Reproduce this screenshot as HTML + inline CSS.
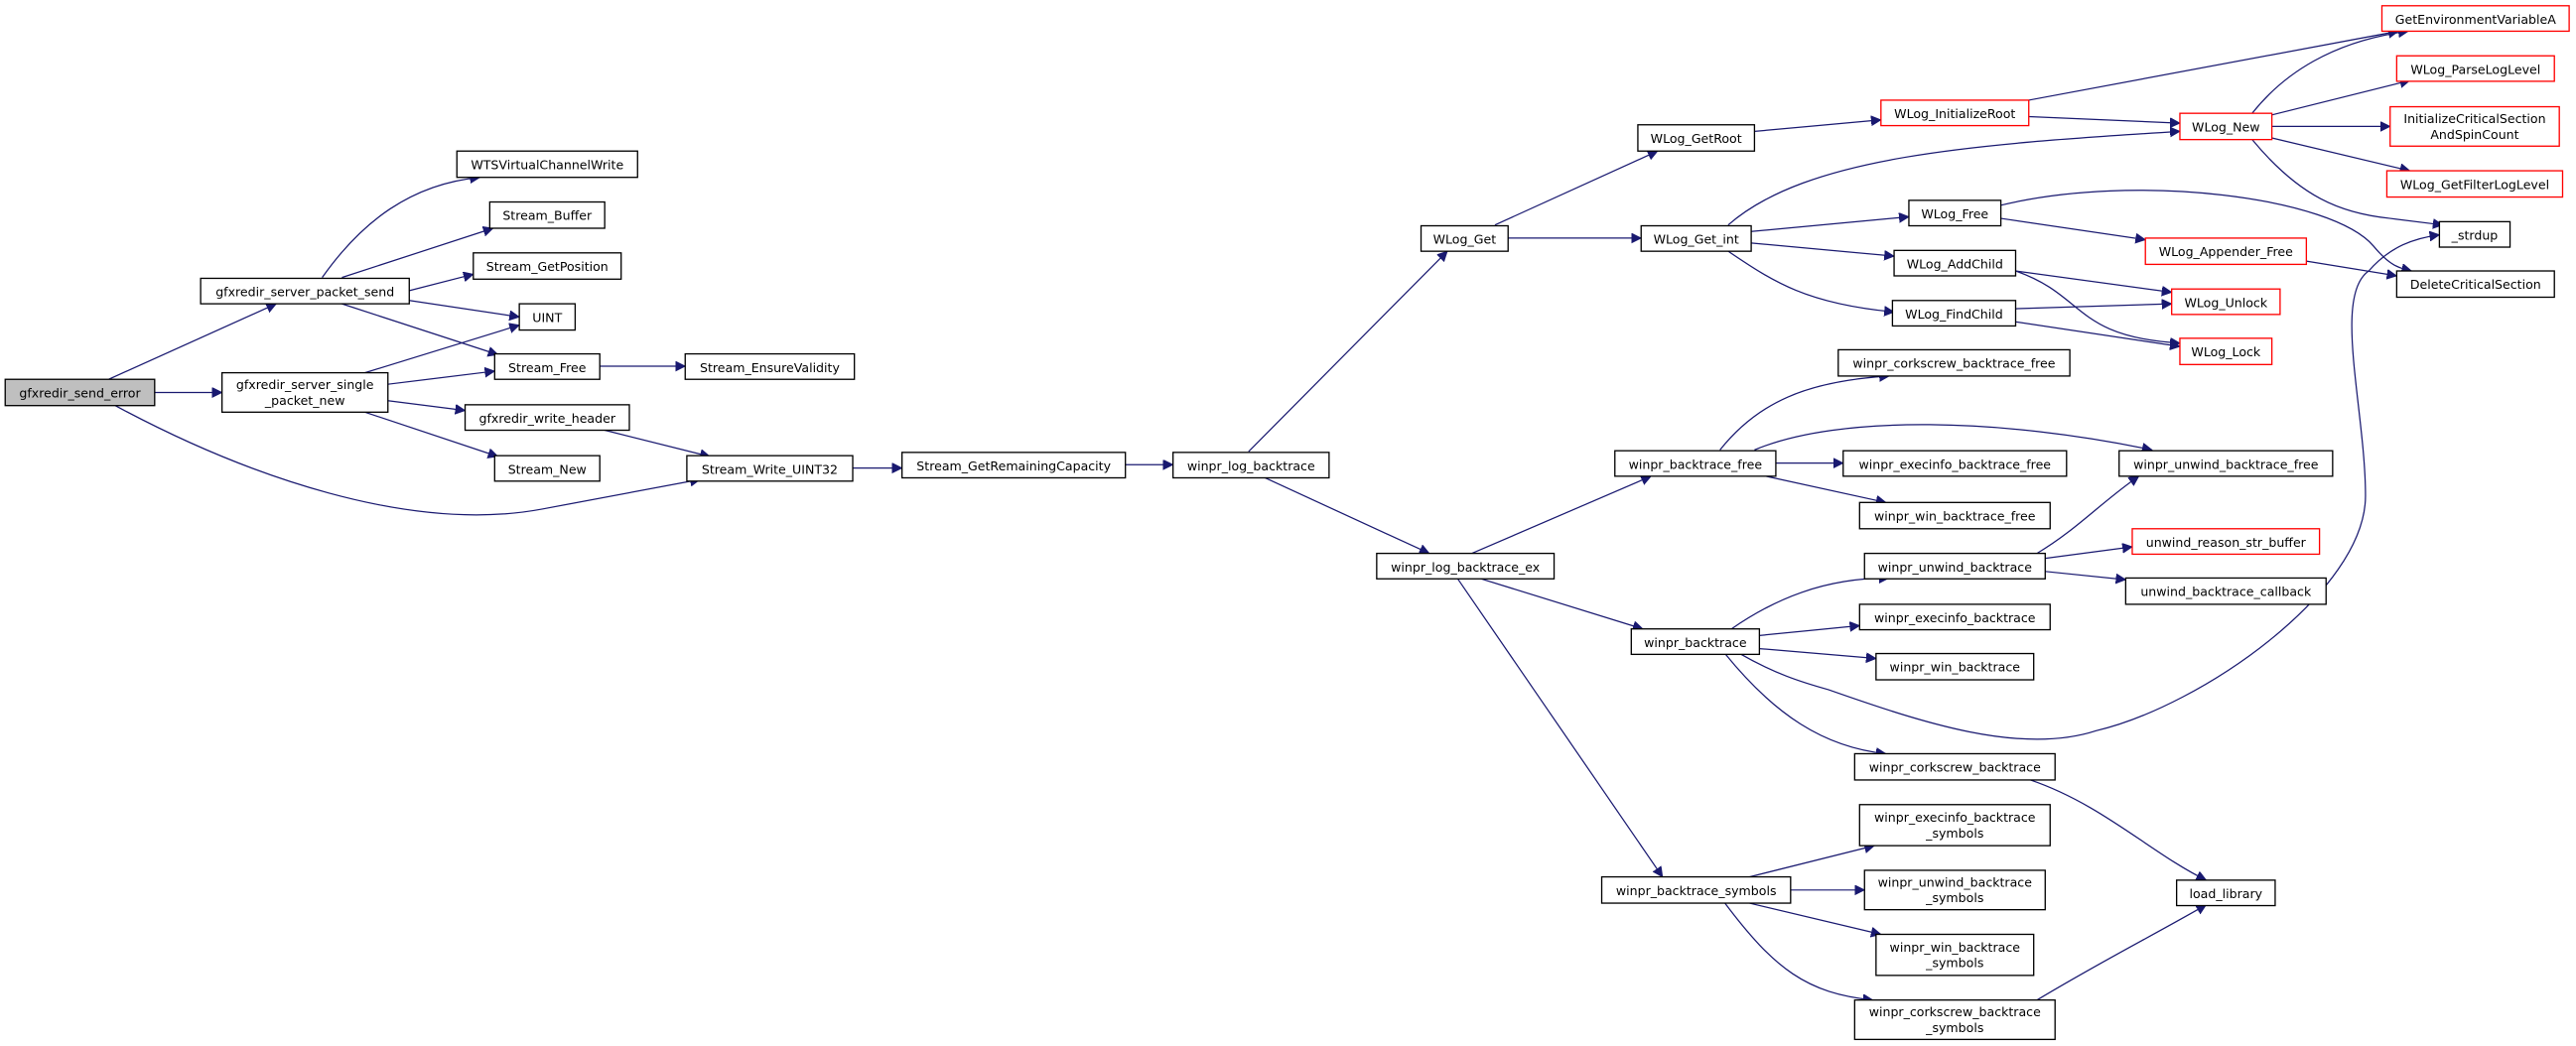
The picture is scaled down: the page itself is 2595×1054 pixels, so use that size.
<!DOCTYPE html>
<html><head><meta charset="utf-8"><style>
html,body{margin:0;padding:0;background:#fff;}
svg{display:block;}
text{font-family:"DejaVu Sans","Liberation Sans",sans-serif;font-size:7.6px;fill:#000;text-anchor:middle;}
.n{fill:#fff;stroke:#000;stroke-width:0.8;}
.r{fill:#fff;stroke:#ff0000;stroke-width:0.8;}
.g{fill:#bfbfbf;stroke:#000;stroke-width:0.8;}
.e{fill:none;stroke:#191970;stroke-width:0.75;marker-end:url(#a);}
</style></head><body>
<svg width="2595" height="1054" viewBox="0 0 1568 637" xmlns="http://www.w3.org/2000/svg">
<defs><marker id="a" markerUnits="userSpaceOnUse" markerWidth="8" markerHeight="8" refX="6" refY="3" orient="auto"><path d="M0,0 L6,3 L0,6 Z" fill="#191970" stroke="#191970" stroke-width="0.5"/></marker></defs>

<!-- edges -->
<path class="e" d="M66,231 L168,185"/>
<path class="e" d="M94,239 L135,239"/>
<path class="e" d="M70,247 C150,290 250,325 330,310 L426,292"/>
<path class="e" d="M196,169 C220,135 250,112 292,108"/>
<path class="e" d="M208,169 L300,139"/>
<path class="e" d="M249,177 L288,167"/>
<path class="e" d="M249,183 L316,193"/>
<path class="e" d="M208,185 L303,216"/>
<path class="e" d="M222,227 L316,198"/>
<path class="e" d="M236,234 L301,226"/>
<path class="e" d="M236,244 L283,250"/>
<path class="e" d="M222,251 L303,278"/>
<path class="e" d="M365,223 L417,223"/>
<path class="e" d="M368,262 L432,278"/>
<path class="e" d="M519,285 L549,285"/>
<path class="e" d="M685,283 L714,283"/>
<path class="e" d="M760,275 L881,153"/>
<path class="e" d="M770,291 L870,337"/>
<path class="e" d="M910,137 L1009,92"/>
<path class="e" d="M918,145 L999,145"/>
<path class="e" d="M1068,80 L1145,73"/>
<path class="e" d="M1235,61 L1460,19"/>
<path class="e" d="M1235,71 L1327,75"/>
<path class="e" d="M1052,137 C1100,95 1200,88 1327,80"/>
<path class="e" d="M1066,141 L1162,132"/>
<path class="e" d="M1066,148 L1153,156"/>
<path class="e" d="M1052,153 C1080,172 1100,185 1153,190"/>
<path class="e" d="M1371,69 C1390,45 1420,25 1466,19"/>
<path class="e" d="M1383,70 L1467,49"/>
<path class="e" d="M1383,77 L1455,77"/>
<path class="e" d="M1383,84 L1467,104"/>
<path class="e" d="M1371,85 C1400,120 1425,130 1455,133 L1487,137"/>
<path class="e" d="M1218,125 C1300,105 1420,120 1445,150 C1455,162 1460,163 1468,165"/>
<path class="e" d="M1218,133 L1306,146"/>
<path class="e" d="M1404,159 L1459,168"/>
<path class="e" d="M1227,165 L1322,178"/>
<path class="e" d="M1227,165 C1270,180 1262,205 1327,209"/>
<path class="e" d="M1227,188 L1322,185"/>
<path class="e" d="M1227,196 L1327,211"/>
<path class="e" d="M896,337 L1005,290"/>
<path class="e" d="M900,352 L1000,383"/>
<path class="e" d="M887,352 L1012,534"/>
<path class="e" d="M1047,274 C1070,245 1100,232 1150,229"/>
<path class="e" d="M1068,274 C1120,252 1220,255 1310,274"/>
<path class="e" d="M1081,282 L1122,282"/>
<path class="e" d="M1075,290 L1148,306"/>
<path class="e" d="M1054,383 C1080,365 1110,352 1150,352"/>
<path class="e" d="M1071,387 L1132,381"/>
<path class="e" d="M1071,395 L1142,401"/>
<path class="e" d="M1059,398 C1080,410 1095,415 1113,420 C1170,440 1230,460 1276,445 C1340,430 1440,360 1440,302 C1440,250 1420,180 1442,165 C1455,150 1470,145 1485,143"/>
<path class="e" d="M1240,337 C1265,322 1280,305 1302,290"/>
<path class="e" d="M1245,340 L1298,333"/>
<path class="e" d="M1245,348 L1294,353"/>
<path class="e" d="M1050,398 C1080,435 1110,455 1148,459"/>
<path class="e" d="M1236,475 C1280,490 1310,520 1343,536"/>
<path class="e" d="M1065,534 L1141,515"/>
<path class="e" d="M1090,542 L1135,542"/>
<path class="e" d="M1065,550 L1145,569"/>
<path class="e" d="M1050,550 C1080,590 1100,605 1140,609"/>
<path class="e" d="M1240,609 C1280,585 1310,570 1343,551"/>

<!-- nodes -->
<rect class="g" x="3" y="231" width="91" height="16"/><text x="48.5" y="242">gfxredir_send_error</text>
<rect class="n" x="122" y="169.5" width="127" height="15.5"/><text x="185.5" y="180.5">gfxredir_server_packet_send</text>
<rect class="n" x="135" y="227" width="101" height="24"/><text x="185.5" y="237">gfxredir_server_single</text><text x="185.5" y="246.5">_packet_new</text>
<rect class="n" x="278" y="92" width="110" height="16"/><text x="333" y="103">WTSVirtualChannelWrite</text>
<rect class="n" x="298" y="123" width="70" height="16"/><text x="333" y="134">Stream_Buffer</text>
<rect class="n" x="288" y="154" width="90" height="16"/><text x="333" y="165">Stream_GetPosition</text>
<rect class="n" x="316" y="185" width="34" height="16"/><text x="333" y="196">UINT</text>
<rect class="n" x="301" y="215.5" width="64" height="15.5"/><text x="333" y="226.5">Stream_Free</text>
<rect class="n" x="417" y="215.5" width="103" height="15.5"/><text x="468.5" y="226.5">Stream_EnsureValidity</text>
<rect class="n" x="283" y="246.5" width="100" height="15.5"/><text x="333" y="257.5">gfxredir_write_header</text>
<rect class="n" x="301" y="277.5" width="64" height="15.5"/><text x="333" y="288.5">Stream_New</text>
<rect class="n" x="418" y="277.5" width="101" height="15.5"/><text x="468.5" y="288.5">Stream_Write_UINT32</text>
<rect class="n" x="549" y="275.5" width="136" height="15.5"/><text x="617" y="286.5">Stream_GetRemainingCapacity</text>
<rect class="n" x="714" y="275.5" width="95" height="15.5"/><text x="761.5" y="286.5">winpr_log_backtrace</text>

<rect class="r" x="1450" y="3.5" width="114" height="15.5"/><text x="1507" y="14.5">GetEnvironmentVariableA</text>
<rect class="r" x="1459" y="34" width="96" height="15.5"/><text x="1507" y="45">WLog_ParseLogLevel</text>
<rect class="r" x="1455" y="65" width="103" height="24"/><text x="1506.5" y="75">InitializeCriticalSection</text><text x="1506.5" y="84.5">AndSpinCount</text>
<rect class="r" x="1453" y="104" width="107" height="16"/><text x="1506.5" y="115">WLog_GetFilterLogLevel</text>
<rect class="r" x="1327" y="69" width="56" height="16"/><text x="1355" y="80">WLog_New</text>
<rect class="r" x="1145" y="61" width="90" height="15.5"/><text x="1190" y="72">WLog_InitializeRoot</text>
<rect class="n" x="997" y="76" width="71" height="16"/><text x="1032.5" y="87">WLog_GetRoot</text>
<rect class="n" x="865" y="137.5" width="53" height="15.5"/><text x="891.5" y="148.5">WLog_Get</text>
<rect class="n" x="999" y="137.5" width="67" height="15.5"/><text x="1032.5" y="148.5">WLog_Get_int</text>
<rect class="n" x="1162" y="122" width="56" height="15.5"/><text x="1190" y="133">WLog_Free</text>
<rect class="r" x="1306" y="145" width="98" height="16"/><text x="1355" y="156">WLog_Appender_Free</text>
<rect class="n" x="1485" y="135" width="43" height="15.5"/><text x="1506.5" y="146">_strdup</text>
<rect class="n" x="1459" y="165" width="96" height="16"/><text x="1507" y="176">DeleteCriticalSection</text>
<rect class="n" x="1153" y="152.5" width="74" height="15.5"/><text x="1190" y="163.5">WLog_AddChild</text>
<rect class="r" x="1322" y="176" width="66" height="15.5"/><text x="1355" y="187">WLog_Unlock</text>
<rect class="n" x="1152" y="183" width="75" height="15.5"/><text x="1189.5" y="194">WLog_FindChild</text>
<rect class="r" x="1327" y="206" width="56" height="16"/><text x="1355" y="217">WLog_Lock</text>
<rect class="n" x="1119" y="213" width="141" height="16"/><text x="1189.5" y="224">winpr_corkscrew_backtrace_free</text>
<rect class="n" x="983" y="274.5" width="98" height="15.5"/><text x="1032" y="285.5">winpr_backtrace_free</text>
<rect class="n" x="1122" y="274.5" width="136" height="15.5"/><text x="1190" y="285.5">winpr_execinfo_backtrace_free</text>
<rect class="n" x="1290" y="274.5" width="130" height="15.5"/><text x="1355" y="285.5">winpr_unwind_backtrace_free</text>
<rect class="n" x="1132" y="306" width="116" height="16"/><text x="1190" y="317">winpr_win_backtrace_free</text>
<rect class="n" x="838" y="337" width="108" height="15.5"/><text x="892" y="348">winpr_log_backtrace_ex</text>
<rect class="n" x="1135" y="337" width="110" height="15.5"/><text x="1190" y="348">winpr_unwind_backtrace</text>
<rect class="r" x="1298" y="322" width="114" height="15.5"/><text x="1355" y="333">unwind_reason_str_buffer</text>
<rect class="n" x="1294" y="352" width="122" height="16"/><text x="1355" y="363">unwind_backtrace_callback</text>
<rect class="n" x="1132" y="368" width="116" height="15.5"/><text x="1190" y="379">winpr_execinfo_backtrace</text>
<rect class="n" x="993" y="383" width="78" height="15.5"/><text x="1032" y="394">winpr_backtrace</text>
<rect class="n" x="1142" y="398" width="96" height="16"/><text x="1190" y="409">winpr_win_backtrace</text>
<rect class="n" x="1129" y="459" width="122" height="16"/><text x="1190" y="470">winpr_corkscrew_backtrace</text>
<rect class="n" x="1132" y="490" width="116" height="25"/><text x="1190" y="500.5">winpr_execinfo_backtrace</text><text x="1190" y="510">_symbols</text>
<rect class="n" x="975" y="534" width="115" height="16"/><text x="1032.5" y="545">winpr_backtrace_symbols</text>
<rect class="n" x="1135" y="530" width="110" height="24"/><text x="1190" y="540">winpr_unwind_backtrace</text><text x="1190" y="549.5">_symbols</text>
<rect class="n" x="1325" y="536" width="60" height="15.5"/><text x="1355" y="547">load_library</text>
<rect class="n" x="1142" y="569" width="96" height="25"/><text x="1190" y="579.5">winpr_win_backtrace</text><text x="1190" y="589">_symbols</text>
<rect class="n" x="1129" y="609" width="122" height="24"/><text x="1190" y="619">winpr_corkscrew_backtrace</text><text x="1190" y="628.5">_symbols</text>
</svg>
</body></html>
